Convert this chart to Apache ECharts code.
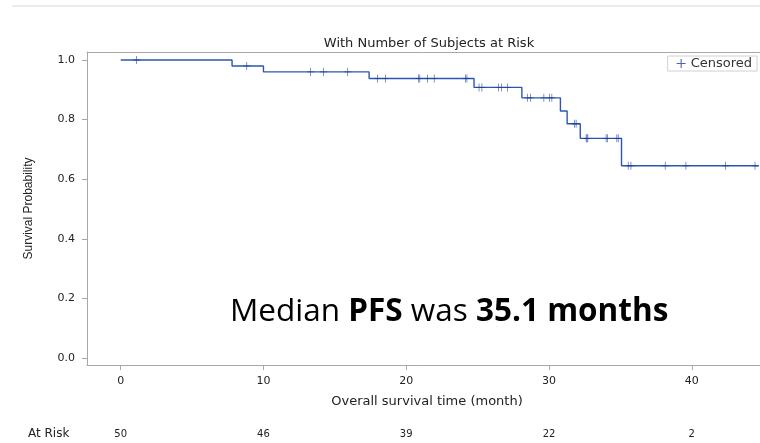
<!DOCTYPE html>
<html>
<head>
<meta charset="utf-8">
<script src="https://cdn.jsdelivr.net/npm/echarts@6/dist/echarts.min.js"></script>
<style>html,body{margin:0;padding:0;background:#fff}#c{width:760px;height:443px}</style>
</head>
<body>
<div id="c"></div>
<script>
// Kaplan-Meier step data: time (month) and survival after the step
const stepTimes = [0, 7.8, 10.0, 17.4, 24.75, 28.1, 30.8, 31.27, 32.19, 35.08, 44.7];
const stepSurv  = [1.0, 0.98, 0.96, 0.938, 0.908, 0.873, 0.829, 0.786, 0.737, 0.645, 0.645];
// Censored observations (time in months)
const censorTimes = [1.12, 8.83, 13.3, 14.2, 15.9, 17.98, 18.55, 20.85, 20.95, 21.5, 21.96, 24.15, 24.25,
  25.1, 25.3, 26.46, 26.67, 27.1, 28.5, 28.7, 29.64, 30.03, 30.2, 31.8, 31.9, 32.6, 32.66, 32.72,
  34.0, 34.1, 34.75, 34.85, 35.55, 35.74, 38.14, 39.59, 42.37, 44.43];
const xTicks = [0, 10, 20, 30, 40];
const yTicks = [0, 0.2, 0.4, 0.6, 0.8, 1.0];
const atRisk = [50, 46, 39, 22, 2];

function survAt(t) {
  let s = stepSurv[0];
  for (let i = 0; i < stepTimes.length; i++) { if (stepTimes[i] <= t) s = stepSurv[i]; }
  return s;
}
const lineData = stepTimes.map((t, i) => [t, stepSurv[i]]);
const censorData = censorTimes.map(t => [t, survAt(t)]);
const plusPath = 'path://M0,3.6h8v0.8h-8z M3.6,0h0.8v8h-0.8z';
const FONT = 'DejaVu Sans, Liberation Sans, Arial, sans-serif';

const chart = echarts.init(document.getElementById('c'));
chart.setOption({
  animation: false,
  title: {
    text: 'With Number of Subjects at Risk', left: 424, top: 32, textAlign: 'center',
    textStyle: { fontFamily: FONT, fontSize: 13, fontWeight: 'normal', color: '#222' }
  },
  legend: {
    right: 3, top: 56, padding: [1, 5, 1, 9], itemGap: 7,
    borderColor: '#d0d0d0', borderWidth: 1, itemWidth: 9, itemHeight: 9,
    textStyle: { fontFamily: FONT, fontSize: 13, color: '#333' },
    data: [{ name: 'Censored', icon: 'path://M0,4.4h10v1.2h-10z M4.4,0h1.2v10h-1.2z', itemStyle: { color: '#1a3f9a' } }]
  },
  grid: { left: 87, top: 52, width: 680, bottom: 78, outerBoundsMode: 'none', show: false },
  xAxis: [{
    type: 'value', min: -2.36, max: 45.27,
    name: 'Overall survival time (month)', nameLocation: 'middle', nameGap: 30,
    nameTextStyle: { fontFamily: FONT, fontSize: 13, color: '#222' },
    axisLine: { show: true, onZero: false, lineStyle: { color: '#a8a8a8' } },
    axisTick: { show: true, length: 5, customValues: xTicks, lineStyle: { color: '#a8a8a8' } },
    axisLabel: { customValues: xTicks, margin: 11, fontFamily: FONT, fontSize: 11, color: '#222' },
    splitLine: { show: false }
  }, {
    type: 'value', min: -2.36, max: 45.27, position: 'bottom', offset: 62,
    axisLine: { show: false, onZero: false }, axisTick: { show: false }, splitLine: { show: false },
    axisLabel: {
      customValues: xTicks, margin: 2, fontFamily: FONT, fontSize: 10, color: '#222',
      formatter: v => String(atRisk[xTicks.indexOf(Math.round(v))])
    }
  }, {
    type: 'value', min: -2.36, max: 45.27, position: 'top',
    axisLine: { show: true, onZero: false, lineStyle: { color: '#a8a8a8' } },
    axisTick: { show: false }, axisLabel: { show: false }, splitLine: { show: false }
  }],
  yAxis: {
    type: 'value', min: -0.0235, max: 1.0268,
    name: 'Survival Probability', nameLocation: 'middle', nameGap: 52,
    nameTextStyle: { fontFamily: 'Liberation Sans Narrow, Liberation Sans, Arial', fontSize: 12, color: '#222' },
    axisLine: { show: true, onZero: false, lineStyle: { color: '#a8a8a8' } },
    axisTick: { show: true, length: 5, customValues: yTicks, lineStyle: { color: '#a8a8a8' } },
    axisLabel: { customValues: yTicks, margin: 12, fontFamily: FONT, fontSize: 11, color: '#222', formatter: v => v.toFixed(1) },
    splitLine: { show: false }
  },
  series: [{
    type: 'line', name: 'Survival', step: 'end', data: lineData, symbol: 'none',
    lineStyle: { color: '#2d56b2', width: 1.4 }, z: 2
  }, {
    type: 'scatter', name: 'Censored', data: censorData, symbol: plusPath, symbolSize: [7, 8],
    itemStyle: { color: '#1a3f9a' }, z: 3
  }],
  graphic: [
    { type: 'line', shape: { x1: 12, y1: 6, x2: 760, y2: 6 }, style: { stroke: '#e4e4e4', lineWidth: 1.5 } },
    { type: 'text', left: 28, top: 428, style: { text: 'At Risk', fontFamily: FONT, fontSize: 12, fill: '#222' } },
    { type: 'text', left: 230, top: 296, style: {
      text: '{n|Median }{b|PFS}{n| was }{b|35.1 months}',
      rich: {
        n: { fontFamily: 'Open Sans, Liberation Sans', fontSize: 31.5, fill: '#000' },
        b: { fontFamily: 'Open Sans, Liberation Sans', fontSize: 31.5, fontWeight: 'bold', fill: '#000' }
      }
    } }
  ]
});
</script>
</body>
</html>
